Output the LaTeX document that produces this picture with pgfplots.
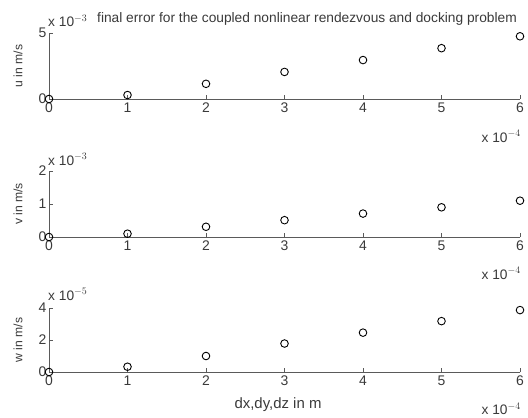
\documentclass[border=0pt]{standalone}
\usepackage{pgfplots}
\pgfplotsset{compat=1.18}
\usepackage{fontspec}
\setmainfont{Liberation Sans}
\definecolor{axgray}{HTML}{5A5A5A}
\definecolor{txtgray}{HTML}{3A3A3A}
\pgfplotsset{
  mystyle/.style={
    scale only axis, width=471bp, anchor=south west,
    xmin=0, xmax=6, clip=false,
    axis x line*=bottom, axis y line*=left,
    axis line style={axgray, line width=0.9pt, -},
    tick style={axgray, line width=0.9pt},
    tick align=inside, major tick length=4bp,
    xtick={0,1,2,3,4,5,6},
    every tick label/.append style={font=\fontsize{14}{16}\selectfont, text=txtgray},
    /pgf/number format/assume math mode=true,
    xticklabel style={yshift=0bp},
    yticklabel style={xshift=1bp},
    ylabel style={font=\fontsize{12.2}{14}\selectfont, text=txtgray, at={(axis description cs:-0.066,0.5)}, anchor=center, rotate=0},
  },
  mk/.style={only marks, mark=o, mark size=3.8bp, black, mark options={line width=0.9pt}},
}
\begin{document}
\begin{tikzpicture}[x=1bp,y=1bp]
\useasboundingbox (0,0) rectangle (528,417);
% top: u
\begin{axis}[mystyle, at={(49bp,318bp)}, height=66bp, ymin=0, ymax=5, ytick={0,5}, ylabel={u in m/s}]
\addplot[mk] coordinates {(0,0) (1,0.3) (2,1.15) (3,2.05) (4,2.95) (5,3.85) (6,4.75)};
\end{axis}
% middle: v
\begin{axis}[mystyle, at={(49bp,180bp)}, height=66bp, ymin=0, ymax=2, ytick={0,1,2}, ylabel={v in m/s}]
\addplot[mk] coordinates {(0,0) (1,0.1) (2,0.31) (3,0.51) (4,0.71) (5,0.9) (6,1.1)};
\end{axis}
% bottom: w
\begin{axis}[mystyle, at={(49bp,45bp)}, height=64bp, ymin=0, ymax=4, ytick={0,2,4}, ylabel={w in m/s}]
\addplot[mk] coordinates {(0,0) (1,0.33) (2,1.0) (3,1.78) (4,2.46) (5,3.18) (6,3.87)};
\end{axis}
% titles and exponent labels
\begin{scope}[every node/.style={text=txtgray, font=\fontsize{13.8}{16}\selectfont, inner sep=0pt}]
\node[anchor=base] at (307,394) {final error for the coupled nonlinear rendezvous and docking problem};
\node[anchor=base west] at (48,390) {x 10$^{-3}$};
\node[anchor=base west] at (48,252) {x 10$^{-3}$};
\node[anchor=base west] at (48,117) {x 10$^{-5}$};
\node[anchor=base east] at (521,275) {x 10$^{-4}$};
\node[anchor=base east] at (521,138) {x 10$^{-4}$};
\node[anchor=base east] at (521,2.5) {x 10$^{-4}$};
\node[anchor=base, font=\fontsize{15}{17}\selectfont] at (278,9) {dx,dy,dz in m};
\end{scope}
\end{tikzpicture}
\end{document}
